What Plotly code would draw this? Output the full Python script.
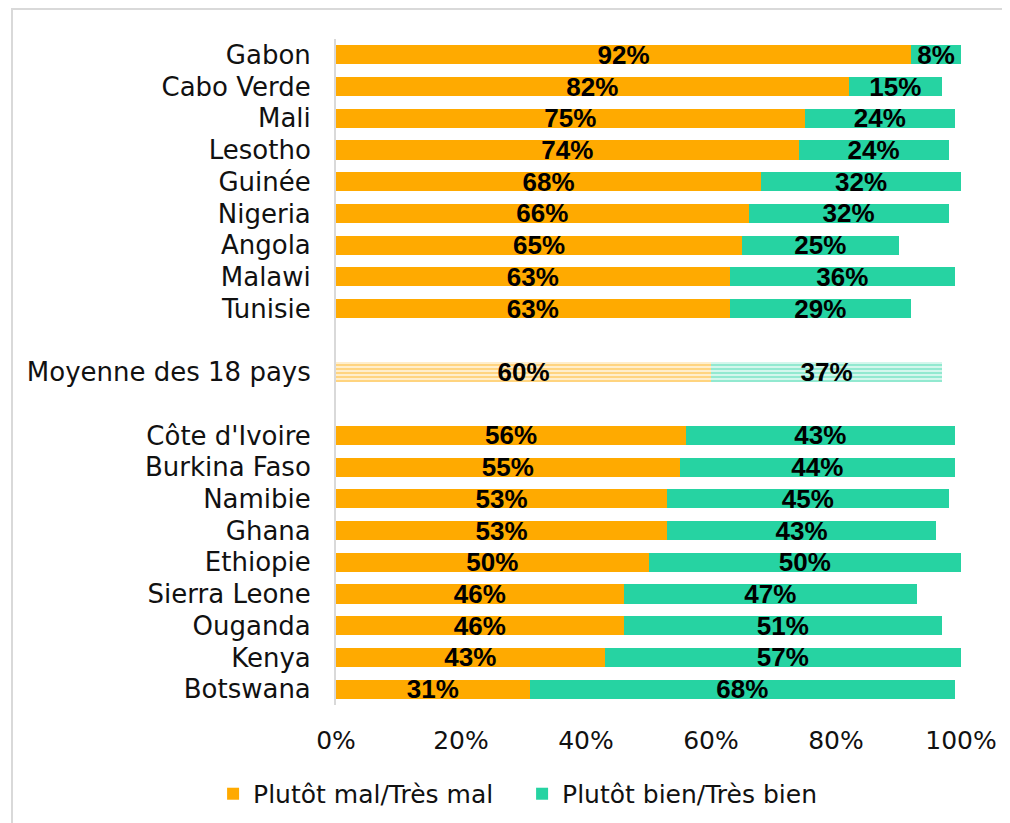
import plotly.graph_objects as go

countries = ["Gabon", "Cabo Verde", "Mali", "Lesotho", "Guinée", "Nigeria", "Angola",
             "Malawi", "Tunisie", "Moyenne des 18 pays", "Côte d'Ivoire", "Burkina Faso",
             "Namibie", "Ghana", "Ethiopie", "Sierra Leone", "Ouganda", "Kenya", "Botswana"]
mal = [92, 82, 75, 74, 68, 66, 65, 63, 63, 60, 56, 55, 53, 53, 50, 46, 46, 43, 31]
bien = [8, 15, 24, 24, 32, 32, 25, 36, 29, 37, 43, 44, 45, 43, 50, 47, 51, 57, 68]
avg_name = "Moyenne des 18 pays"
cat_order = countries[:9] + [" "] + [avg_name] + ["  "] + countries[10:]

ORANGE = "#FFAA00"
TEAL = "#26D3A2"
lbl_font = dict(family="Liberation Sans", size=26, color="black", weight="bold")

cats = [c for c in countries if c != avg_name]
idx = [countries.index(c) for c in cats]
ai = countries.index(avg_name)


def pct(vals):
    return [f"{v}%" for v in vals]


common = dict(orientation="h", texttemplate="%{text}", textposition="inside",
              insidetextanchor="middle", textangle=0, constraintext="none",
              textfont=lbl_font, hoverinfo="skip")

fig = go.Figure()
m_vals = [mal[i] for i in idx]
b_vals = [bien[i] for i in idx]
fig.add_bar(y=cats, x=m_vals, text=pct(m_vals), name="Plutôt mal/Très mal",
            marker=dict(color=ORANGE, line=dict(width=0)), legendgroup="a", **common)
fig.add_bar(y=cats, x=b_vals, text=pct(b_vals), name="Plutôt bien/Très bien",
            marker=dict(color=TEAL, line=dict(width=0)), legendgroup="b", **common)
# average row, hatched
fig.add_bar(y=[avg_name], x=[mal[ai]], text=pct([mal[ai]]), showlegend=False,
            marker=dict(color=ORANGE, line=dict(width=0),
                        pattern=dict(shape="-", fgcolor=ORANGE, bgcolor="white", size=4, solidity=0.7)),
            legendgroup="a", **common)
fig.add_bar(y=[avg_name], x=[bien[ai]], text=pct([bien[ai]]), showlegend=False,
            marker=dict(color=TEAL, line=dict(width=0),
                        pattern=dict(shape="-", fgcolor=TEAL, bgcolor="white", size=4, solidity=0.7)),
            legendgroup="b", **common)

fig.update_layout(
    width=1010, height=823, barmode="stack", bargap=0.4,
    margin=dict(l=328, r=57, t=31, b=126, autoexpand=False),
    plot_bgcolor="white", paper_bgcolor="white",
    font=dict(family="DejaVu Sans", size=26, color="#111111"),
    legend=dict(orientation="h", x=0.509, xref="container", xanchor="center",
                y=-0.1336, yanchor="middle", font=dict(size=25), traceorder="normal",
                entrywidth=264),
    xaxis=dict(range=[0, 100], dtick=20, ticksuffix="%", showgrid=False, zeroline=False,
               showline=False, ticks="", ticklabelstandoff=18, tickfont=dict(size=25),
               automargin=False),
    yaxis=dict(categoryorder="array", categoryarray=cat_order, autorange="reversed",
               showline=True, linecolor="#d9d9d9", linewidth=2, showgrid=False, ticks="",
               ticklabelstandoff=18, automargin=False),
    shapes=[dict(type="rect", xref="paper", yref="paper", x0=-0.5184, x1=2, y0=-1, y1=1.045,
                 line=dict(color="#d9d9d9", width=2), fillcolor="rgba(0,0,0,0)", layer="below")],
)
fig.write_html("out.html")
